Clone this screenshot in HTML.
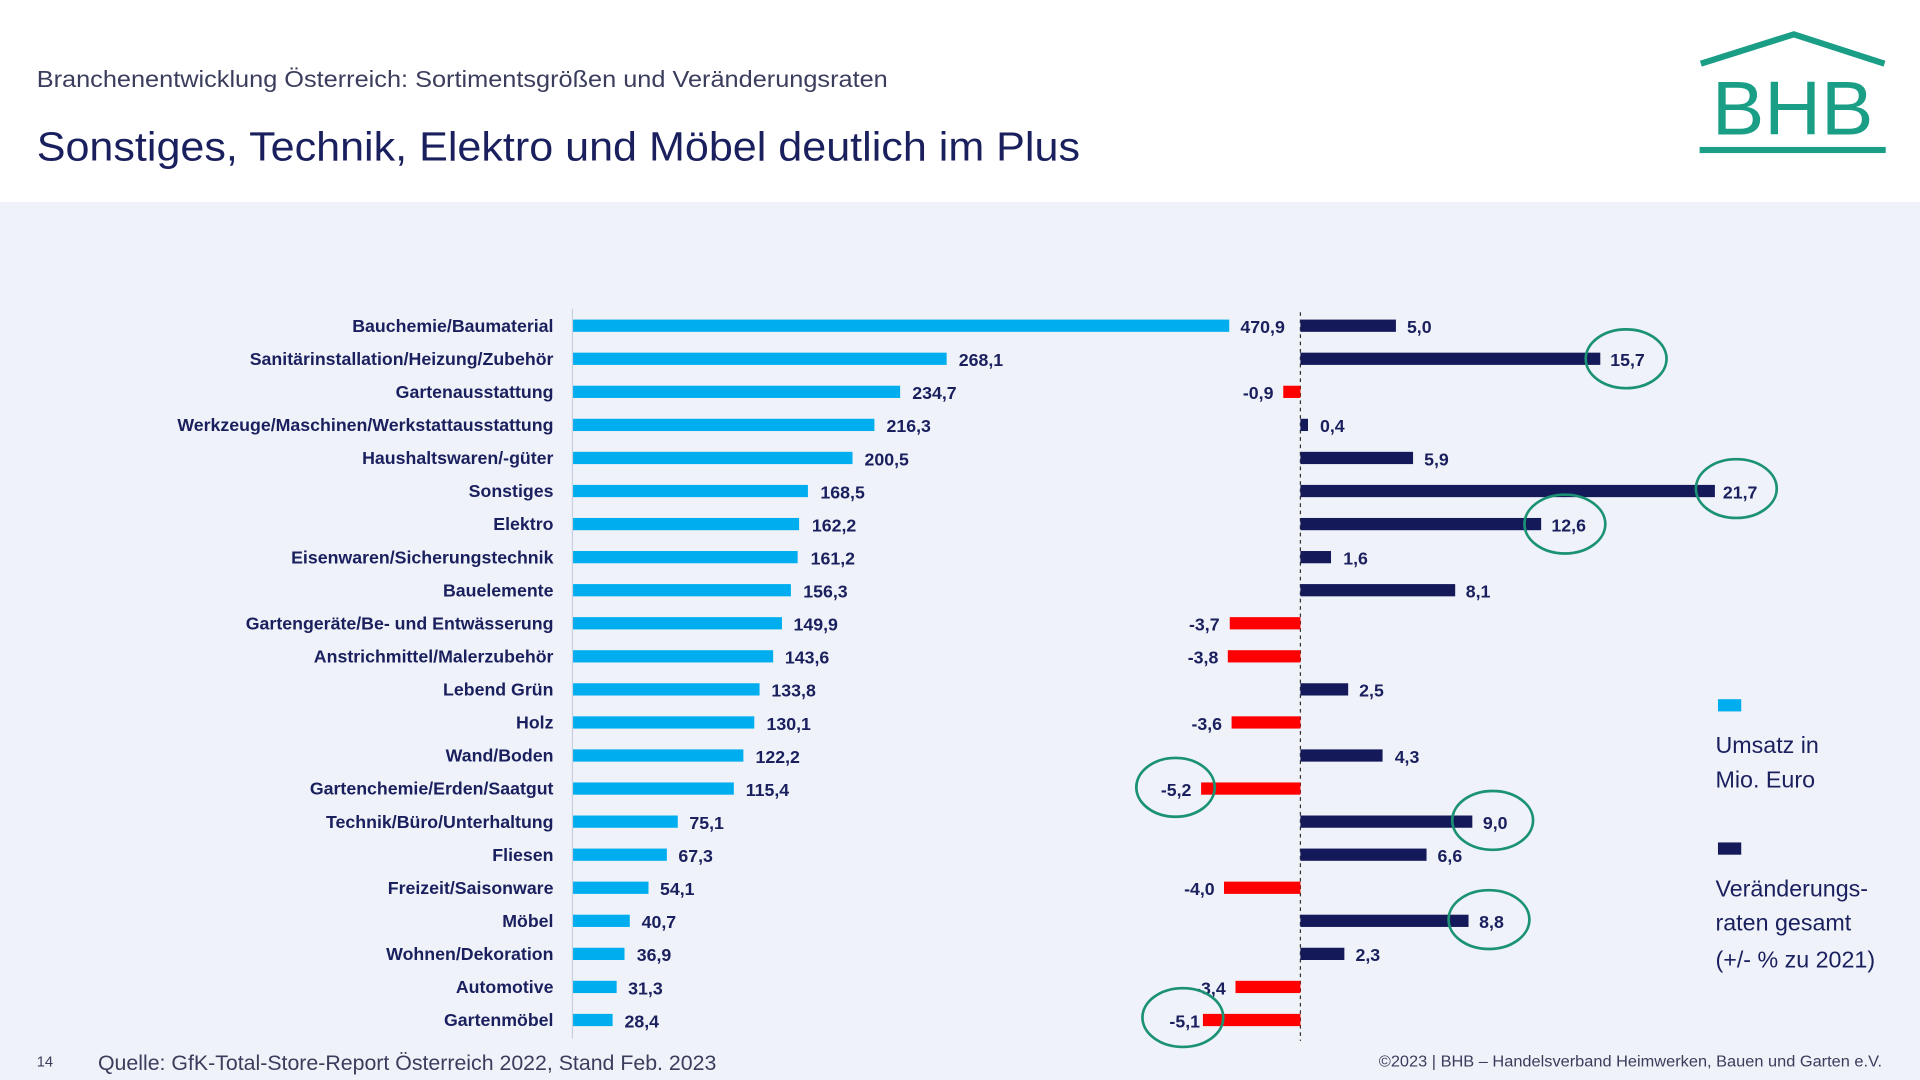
<!DOCTYPE html>
<html><head><meta charset="utf-8"><style>
html,body{margin:0;padding:0;width:1920px;height:1080px;overflow:hidden;background:#fff}
svg{display:block}
text{font-family:"Liberation Sans",sans-serif}
.l{font-size:14.5px;font-weight:bold;fill:#1a1f5e;text-anchor:end}
.v{font-size:14.5px;font-weight:bold;fill:#1a1f5e}
.n{font-size:14.5px;font-weight:bold;fill:#1a1f5e;text-anchor:end}
.b{fill:#00aeef}.d{fill:#14195a}.r{fill:#ff0000}
ellipse{fill:none;stroke:#1a9273;stroke-width:2.2}
</style></head><body>
<svg width="1920" height="1080" viewBox="0 0 1568 882">
<rect x="0" y="0" width="1568" height="165" fill="#fff"/>
<rect x="0" y="165" width="1568" height="717" fill="#eff2f8"/>
<text x="30" y="71" font-size="19" fill="#3a3d5c" textLength="695" lengthAdjust="spacingAndGlyphs">Branchenentwicklung Österreich: Sortimentsgrößen und Veränderungsraten</text>
<text x="30" y="131" font-size="33" fill="#1a1f5e" textLength="852" lengthAdjust="spacingAndGlyphs">Sonstiges, Technik, Elektro und Möbel deutlich im Plus</text>
<polyline points="1389,52 1465,28 1539,52" fill="none" stroke="#1a9e86" stroke-width="5"/>
<text x="1464" y="110" font-size="62" fill="#1a9e86" text-anchor="middle" textLength="132" lengthAdjust="spacingAndGlyphs">BHB</text>
<rect x="1388" y="120" width="152" height="5" fill="#1a9e86"/>
<line x1="467.5" y1="252" x2="467.5" y2="848" stroke="#c8cfe0" stroke-width="1"/>
<line x1="1062" y1="255" x2="1062" y2="850" stroke="#333" stroke-width="1" stroke-dasharray="3,3"/>
<g>
<text class="l" x="452" y="271">Bauchemie/Baumaterial</text><rect class="b" x="468" y="261" width="535.9" height="10"/><text class="v" x="1013" y="272">470,9</text><rect class="d" x="1062" y="261" width="78" height="10"/><text class="v" x="1149" y="272">5,0</text>
<text class="l" x="452" y="298">Sanitärinstallation/Heizung/Zubehör</text><rect class="b" x="468" y="288" width="305.1" height="10"/><text class="v" x="783" y="299">268,1</text><rect class="d" x="1062" y="288" width="244.9" height="10"/><text class="v" x="1315" y="299">15,7</text>
<text class="l" x="452" y="325">Gartenausstattung</text><rect class="b" x="468" y="315" width="267.1" height="10"/><text class="v" x="745" y="326">234,7</text><rect class="r" x="1048" y="315" width="14" height="10"/><text class="n" x="1040" y="326">-0,9</text>
<text class="l" x="452" y="352">Werkzeuge/Maschinen/Werkstattausstattung</text><rect class="b" x="468" y="342" width="246.1" height="10"/><text class="v" x="724" y="353">216,3</text><rect class="d" x="1062" y="342" width="6.2" height="10"/><text class="v" x="1078" y="353">0,4</text>
<text class="l" x="452" y="379">Haushaltswaren/-güter</text><rect class="b" x="468" y="369" width="228.2" height="10"/><text class="v" x="706" y="380">200,5</text><rect class="d" x="1062" y="369" width="92" height="10"/><text class="v" x="1163" y="380">5,9</text>
<text class="l" x="452" y="406">Sonstiges</text><rect class="b" x="468" y="396" width="191.8" height="10"/><text class="v" x="670" y="407">168,5</text><rect class="d" x="1062" y="396" width="338.5" height="10"/><text class="v" x="1407" y="407">21,7</text>
<text class="l" x="452" y="433">Elektro</text><rect class="b" x="468" y="423" width="184.6" height="10"/><text class="v" x="663" y="434">162,2</text><rect class="d" x="1062" y="423" width="196.6" height="10"/><text class="v" x="1267" y="434">12,6</text>
<text class="l" x="452" y="460">Eisenwaren/Sicherungstechnik</text><rect class="b" x="468" y="450" width="183.4" height="10"/><text class="v" x="662" y="461">161,2</text><rect class="d" x="1062" y="450" width="25" height="10"/><text class="v" x="1097" y="461">1,6</text>
<text class="l" x="452" y="487">Bauelemente</text><rect class="b" x="468" y="477" width="177.9" height="10"/><text class="v" x="656" y="488">156,3</text><rect class="d" x="1062" y="477" width="126.4" height="10"/><text class="v" x="1197" y="488">8,1</text>
<text class="l" x="452" y="514">Gartengeräte/Be- und Entwässerung</text><rect class="b" x="468" y="504" width="170.6" height="10"/><text class="v" x="648" y="515">149,9</text><rect class="r" x="1004.3" y="504" width="57.7" height="10"/><text class="n" x="996" y="515">-3,7</text>
<text class="l" x="452" y="541">Anstrichmittel/Malerzubehör</text><rect class="b" x="468" y="531" width="163.4" height="10"/><text class="v" x="641" y="542">143,6</text><rect class="r" x="1002.7" y="531" width="59.3" height="10"/><text class="n" x="995" y="542">-3,8</text>
<text class="l" x="452" y="568">Lebend Grün</text><rect class="b" x="468" y="558" width="152.3" height="10"/><text class="v" x="630" y="569">133,8</text><rect class="d" x="1062" y="558" width="39" height="10"/><text class="v" x="1110" y="569">2,5</text>
<text class="l" x="452" y="595">Holz</text><rect class="b" x="468" y="585" width="148" height="10"/><text class="v" x="626" y="596">130,1</text><rect class="r" x="1005.8" y="585" width="56.2" height="10"/><text class="n" x="998" y="596">-3,6</text>
<text class="l" x="452" y="622">Wand/Boden</text><rect class="b" x="468" y="612" width="139.1" height="10"/><text class="v" x="617" y="623">122,2</text><rect class="d" x="1062" y="612" width="67.1" height="10"/><text class="v" x="1139" y="623">4,3</text>
<text class="l" x="452" y="649">Gartenchemie/Erden/Saatgut</text><rect class="b" x="468" y="639" width="131.3" height="10"/><text class="v" x="609" y="650">115,4</text><rect class="r" x="980.9" y="639" width="81.1" height="10"/><text class="n" x="973" y="650">-5,2</text>
<text class="l" x="452" y="676">Technik/Büro/Unterhaltung</text><rect class="b" x="468" y="666" width="85.5" height="10"/><text class="v" x="563" y="677">75,1</text><rect class="d" x="1062" y="666" width="140.4" height="10"/><text class="v" x="1211" y="677">9,0</text>
<text class="l" x="452" y="703">Fliesen</text><rect class="b" x="468" y="693" width="76.6" height="10"/><text class="v" x="554" y="704">67,3</text><rect class="d" x="1062" y="693" width="103" height="10"/><text class="v" x="1174" y="704">6,6</text>
<text class="l" x="452" y="730">Freizeit/Saisonware</text><rect class="b" x="468" y="720" width="61.6" height="10"/><text class="v" x="539" y="731">54,1</text><rect class="r" x="999.6" y="720" width="62.4" height="10"/><text class="n" x="992" y="731">-4,0</text>
<text class="l" x="452" y="757">Möbel</text><rect class="b" x="468" y="747" width="46.3" height="10"/><text class="v" x="524" y="758">40,7</text><rect class="d" x="1062" y="747" width="137.3" height="10"/><text class="v" x="1208" y="758">8,8</text>
<text class="l" x="452" y="784">Wohnen/Dekoration</text><rect class="b" x="468" y="774" width="42" height="10"/><text class="v" x="520" y="785">36,9</text><rect class="d" x="1062" y="774" width="35.9" height="10"/><text class="v" x="1107" y="785">2,3</text>
<text class="l" x="452" y="811">Automotive</text><rect class="b" x="468" y="801" width="35.6" height="10"/><text class="v" x="513" y="812">31,3</text><rect class="r" x="1009" y="801" width="53" height="10"/><text class="n" x="1001" y="812">-3,4</text>
<text class="l" x="452" y="838">Gartenmöbel</text><rect class="b" x="468" y="828" width="32.3" height="10"/><text class="v" x="510" y="839">28,4</text><rect class="r" x="982.4" y="828" width="79.6" height="10"/><text class="n" x="980" y="839">-5,1</text>
</g>
<ellipse cx="1328" cy="293" rx="33" ry="24"/>
<ellipse cx="1418" cy="399" rx="33" ry="24"/>
<ellipse cx="1278" cy="428" rx="33" ry="24"/>
<ellipse cx="960" cy="643" rx="32" ry="24"/>
<ellipse cx="1219" cy="670" rx="33" ry="24"/>
<ellipse cx="1216" cy="751" rx="33" ry="24"/>
<ellipse cx="966" cy="831" rx="33" ry="24"/>
<rect x="1403" y="571" width="19" height="10" fill="#00aeef"/>
<text x="1401" y="615" font-size="19" fill="#1a1f5e">Umsatz in</text>
<text x="1401" y="643" font-size="19" fill="#1a1f5e">Mio. Euro</text>
<rect x="1403" y="688" width="19" height="10" fill="#14195a"/>
<text x="1401" y="732" font-size="19" fill="#1a1f5e">Veränderungs-</text>
<text x="1401" y="760" font-size="19" fill="#1a1f5e">raten gesamt</text>
<text x="1401" y="790" font-size="19" fill="#1a1f5e">(+/- % zu 2021)</text>
<text x="30" y="871" font-size="12" fill="#3a3d5c">14</text>
<text x="80" y="874" font-size="17" fill="#3a3d5c" textLength="505" lengthAdjust="spacingAndGlyphs">Quelle: GfK-Total-Store-Report Österreich 2022, Stand Feb. 2023</text>
<text x="1126" y="871" font-size="13" fill="#3a3d5c" textLength="411" lengthAdjust="spacingAndGlyphs">©2023 | BHB – Handelsverband Heimwerken, Bauen und Garten e.V.</text>
</svg>
</body></html>
